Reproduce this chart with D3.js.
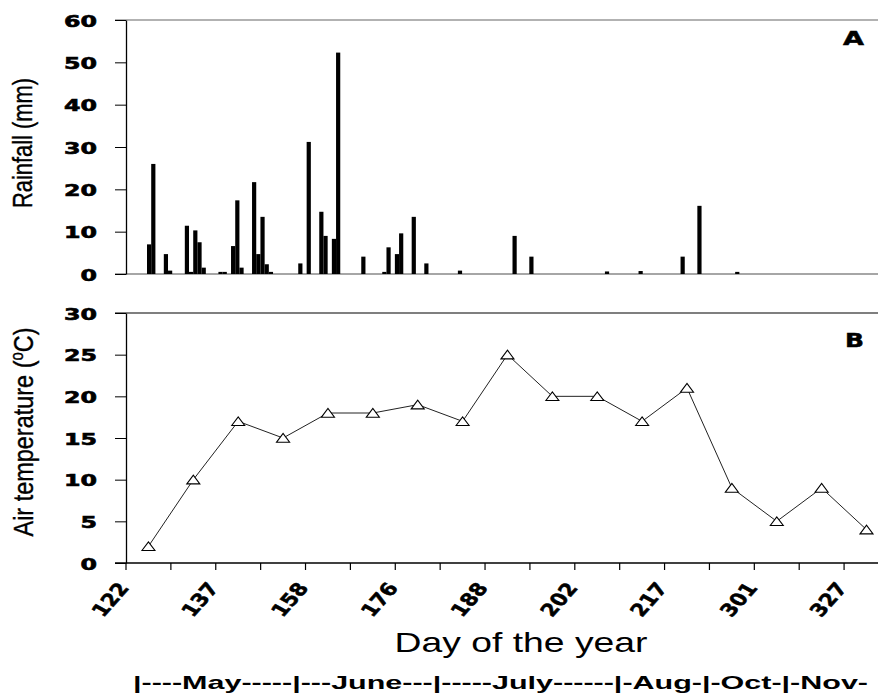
<!DOCTYPE html>
<html>
<head>
<meta charset="utf-8">
<script src="https://cdn.jsdelivr.net/npm/d3@7"></script>
<style>
  body { margin: 0; background: #fff; }
</style>
</head>
<body>
<div id="chart"></div>
<script>
// Panel A - daily rainfall (day of year, mm)
const rainDays = [126, 127, 130, 131, 135, 136, 137, 138, 139, 143, 144, 146, 147, 148,
                  151, 152, 153, 154, 155, 162, 164, 167, 168, 170, 171, 177, 182, 183,
                  185, 186, 189, 192, 200, 213, 217, 235, 243, 253, 257, 266];
const rainMm = [7.0, 26.0, 4.7, 0.8, 11.4, 0.5, 10.3, 7.5, 1.5, 0.5, 0.5, 6.6, 17.4, 1.5,
                21.7, 4.7, 13.5, 2.3, 0.5, 2.5, 31.2, 14.7, 9.0, 8.3, 52.3, 4.1, 0.5, 6.3,
                4.7, 9.6, 13.5, 2.5, 0.8, 9.0, 4.1, 0.6, 0.7, 4.1, 16.1, 0.5];

// Panel B - air temperature per sampling date
const tempLabels = ["122", "", "137", "", "158", "", "176", "", "188", "", "202", "", "217", "", "301", "", "327"];
const tempC = [2, 10, 17, 15, 18, 18, 19, 17, 25, 20, 20, 17, 21, 9, 5, 9, 4];

const rainTicks = [0, 10, 20, 30, 40, 50, 60];
const tempTicks = [0, 5, 10, 15, 20, 25, 30];
const monthLine = "|----May-----|---June---|-----July------|-Aug-|-Oct-|-Nov-";

var W = 878, H = 694;
var stretch = 1.28;   // the picture is stretched sideways
var numFont = "'DejaVu Sans', sans-serif";
var txtFont = "'Liberation Sans', Arial, sans-serif";

var svg = d3.select("#chart").append("svg")
    .attr("width", W).attr("height", H);
svg.append("rect").attr("width", W).attr("height", H).attr("fill", "#fff");

function styleYAxis(g) {
  g.select(".domain").attr("stroke", "#000").attr("stroke-width", 1.3);
  g.selectAll(".tick line").attr("stroke", "#000");
  g.selectAll(".tick text")
    .attr("font-family", numFont)
    .attr("font-weight", "bold")
    .attr("font-size", "15.5px")
    .attr("fill", "#000")
    .attr("stroke", "#000").attr("stroke-width", 0.6)
    .attr("dy", "0.4em")
    .attr("textLength", function(d) { return String(d).length * 16.5; })
    .attr("lengthAdjust", "spacingAndGlyphs");
}

// ---------- Panel A ----------
var xA = d3.scaleLinear().domain([121, 300]).range([126, 878]);
var yA = d3.scaleLinear().domain([0, 60]).range([274, 20]);

svg.append("line").attr("x1", 115).attr("x2", W).attr("y1", yA(60)).attr("y2", yA(60))
  .attr("stroke", "#999").attr("stroke-width", 1.3);
svg.append("line").attr("x1", 115).attr("x2", W).attr("y1", yA(0)).attr("y2", yA(0))
  .attr("stroke", "#888").attr("stroke-width", 1.3);

svg.selectAll("rect.bar")
  .data(rainDays.map(function(d, i) { return {day: d, mm: rainMm[i]}; }))
  .enter().append("rect")
    .attr("class", "bar")
    .attr("x", function(d) { return xA(d.day); })
    .attr("y", function(d) { return yA(d.mm); })
    .attr("width", 4.2)
    .attr("height", function(d) { return yA(0) - yA(d.mm); })
    .attr("fill", "#000");

svg.append("g")
  .attr("transform", "translate(126,0)")
  .call(d3.axisLeft(yA).tickValues(rainTicks).tickSize(11).tickSizeOuter(0).tickPadding(18))
  .call(styleYAxis);

svg.append("text")
  .attr("transform", "translate(32,143) scale(" + stretch + ",1) rotate(-90)")
  .attr("text-anchor", "middle")
  .attr("font-family", txtFont).attr("font-size", "22px")
  .attr("stroke", "#000").attr("stroke-width", 0.3)
  .attr("textLength", 130).attr("lengthAdjust", "spacingAndGlyphs")
  .text("Rainfall (mm)");

svg.append("text")
  .attr("x", 843).attr("y", 45)
  .attr("font-family", numFont).attr("font-weight", "bold").attr("font-size", "20px")
  .attr("stroke", "#000").attr("stroke-width", 0.5)
  .attr("textLength", 21).attr("lengthAdjust", "spacingAndGlyphs")
  .text("A");

// ---------- Panel B ----------
var xB = d3.scaleBand().domain(d3.range(tempC.length)).range([126, 126 + 17 * 44.88]);
var yB = d3.scaleLinear().domain([0, 30]).range([563, 313]);

svg.append("line").attr("x1", 115).attr("x2", W).attr("y1", yB(30)).attr("y2", yB(30))
  .attr("stroke", "#555").attr("stroke-width", 1.3);
svg.append("line").attr("x1", 115).attr("x2", W).attr("y1", yB(0)).attr("y2", yB(0))
  .attr("stroke", "#000").attr("stroke-width", 1.3);

// category tick marks between sampling dates
svg.selectAll("line.xtick")
  .data(d3.range(tempC.length + 1))
  .enter().append("line")
    .attr("class", "xtick")
    .attr("x1", function(k) { return xB.range()[0] + k * xB.step(); })
    .attr("x2", function(k) { return xB.range()[0] + k * xB.step(); })
    .attr("y1", yB(0)).attr("y2", yB(0) + 7)
    .attr("stroke", "#000").attr("stroke-width", 1.2);

svg.append("g")
  .attr("transform", "translate(126,0)")
  .call(d3.axisLeft(yB).tickValues(tempTicks).tickSize(11).tickSizeOuter(0).tickPadding(18))
  .call(styleYAxis);

svg.selectAll("text.xlab")
  .data(tempLabels.map(function(l, i) { return {label: l, i: i}; }).filter(function(d) { return d.label !== ""; }))
  .enter().append("text")
    .attr("class", "xlab")
    .attr("transform", function(d) {
      return "translate(" + (xB(d.i) + 4) + ",588) scale(" + stretch + ",1) rotate(-55)";
    })
    .attr("text-anchor", "end")
    .attr("font-family", numFont).attr("font-weight", "bold").attr("font-size", "17.5px")
    .attr("stroke", "#000").attr("stroke-width", 0.5)
    .text(function(d) { return d.label; });

var line = d3.line()
  .x(function(d, i) { return xB(i) + xB.bandwidth() / 2; })
  .y(function(d) { return yB(d); });

svg.append("path")
  .datum(tempC)
  .attr("d", line)
  .attr("fill", "none")
  .attr("stroke", "#222")
  .attr("stroke-width", 1);

svg.selectAll("path.tri")
  .data(tempC)
  .enter().append("path")
    .attr("class", "tri")
    .attr("transform", function(d, i) { return "translate(" + (xB(i) + xB.bandwidth() / 2) + "," + yB(d) + ")"; })
    .attr("d", "M-6.5,4.2L0,-4.5L6.5,4.2Z")
    .attr("fill", "#fff")
    .attr("stroke", "#000")
    .attr("stroke-width", 1.1);

var yt = svg.append("text")
  .attr("transform", "translate(33,432) scale(" + stretch + ",1) rotate(-90)")
  .attr("text-anchor", "middle")
  .attr("font-family", txtFont).attr("font-size", "22px")
  .attr("stroke", "#000").attr("stroke-width", 0.3)
  .attr("textLength", 209).attr("lengthAdjust", "spacingAndGlyphs");
yt.append("tspan").text("Air temperature (");
yt.append("tspan").attr("baseline-shift", "super").attr("font-size", "14px").text("o");
yt.append("tspan").text("C)");

svg.append("text")
  .attr("x", 845).attr("y", 347)
  .attr("font-family", numFont).attr("font-weight", "bold").attr("font-size", "19px")
  .attr("stroke", "#000").attr("stroke-width", 0.5)
  .attr("textLength", 19).attr("lengthAdjust", "spacingAndGlyphs")
  .text("B");

// x title and month strip
svg.append("text")
  .attr("x", 521).attr("y", 652)
  .attr("text-anchor", "middle")
  .attr("font-family", txtFont).attr("font-size", "28px")
  .attr("textLength", 253).attr("lengthAdjust", "spacingAndGlyphs")
  .text("Day of the year");

svg.append("text")
  .attr("x", 133).attr("y", 689)
  .attr("font-family", txtFont).attr("font-weight", "bold").attr("font-size", "19px")
  .attr("textLength", 735).attr("lengthAdjust", "spacingAndGlyphs")
  .text(monthLine);
</script>
</body>
</html>
